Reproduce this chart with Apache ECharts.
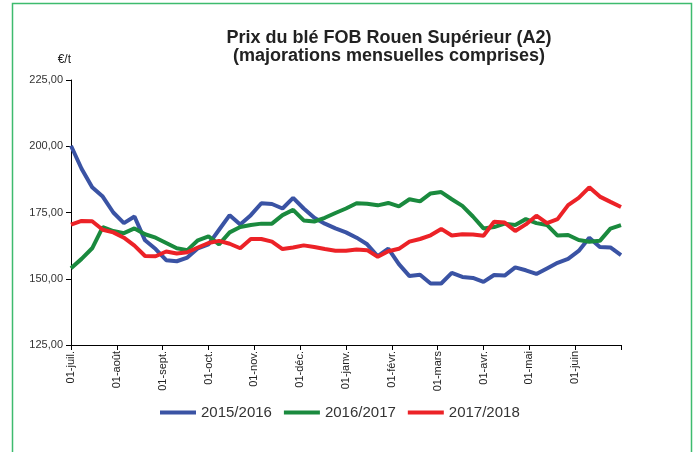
<!DOCTYPE html>
<html>
<head>
<meta charset="utf-8">
<script src="https://cdn.jsdelivr.net/npm/echarts@6/dist/echarts.min.js"></script>
<style>
  html, body { margin: 0; padding: 0; background: #fff; }
  #chart { width: 695px; height: 452px; }
</style>
</head>
<body>
<div id="chart"></div>
<script>
  // étiquettes des mois (axe x), une semaine = une unité
  const monthLabels = ['01-juil.', '01-août', '01-sept.', '01-oct.', '01-nov.', '01-déc.',
    '01-janv.', '01-févr.', '01-mars', '01-avr.', '01-mai', '01-juin'];
  const nbWeeks = 52;

  // prix hebdomadaires (€/t)
  const s2015 = [200.2, 191.5, 184.5, 181, 175, 171, 173.5, 164.5, 161.2, 157, 156.6, 158, 161.5,
    163, 168.5, 174, 170.5, 174, 178.5, 178.2, 176.5, 180.5, 176.5, 173, 170.8, 169, 167.5,
    165.5, 163, 158.5, 161.4, 155.5, 151, 151.5, 148.2, 148.2, 152.2, 150.7, 150.3, 148.8,
    151.4, 151.2, 154.3, 153.2, 151.8, 153.9, 156, 157.5, 160.5, 165.5, 162, 161.8, 158.9];
  const s2016 = [154, 157.5, 161.5, 169.5, 168, 167.2, 169, 166.8, 165.5, 163.5, 161.5, 160.8, 164.5,
    166, 163, 167.5, 169.5, 170.3, 170.8, 170.8, 174, 176, 172, 171.6, 173, 174.8, 176.5,
    178.5, 178.3, 177.7, 178.6, 177.3, 180, 179.2, 182.2, 182.7, 180, 177.5, 173.5, 169,
    169.5, 170.8, 170.3, 172.5, 171, 170.3, 166.3, 166.5, 164.6, 164, 164.3, 168.9, 170.2];
  const s2017 = [170.4, 171.8, 171.7, 168.5, 167.5, 165.5, 162.5, 158.6, 158.5, 160.3, 159.5, 160, 161.8,
    163.5, 164.3, 163.2, 161.5, 165, 165, 164, 161.2, 161.8, 162.6, 162, 161.2, 160.6, 160.6,
    161, 160.8, 158.3, 160.4, 161.3, 164, 165, 166.4, 168.8, 166.3, 166.8, 166.7, 166.2,
    171.5, 171.2, 168, 170.5, 173.8, 171, 172.5, 177.8, 180.5, 184.5, 181, 179, 177.1];

  const seriesNames = ['2015/2016', '2016/2017', '2017/2018'];
  const seriesColors = ['#3a53a4', '#1a8a3e', '#ec2227'];

  const chart = echarts.init(document.getElementById('chart'));

  const toPairs = arr => arr.map((v, i) => [i, v]);

  const option = {
    animation: false,
    backgroundColor: '#fff',
    graphic: [
      {
        type: 'rect',
        shape: { x: 12.5, y: 3.5, width: 679, height: 460 },
        style: { fill: 'none', stroke: '#3dbb6e', lineWidth: 1.5 },
        silent: true
      }
    ],
    title: [
      {
        text: 'Prix du blé FOB Rouen Supérieur (A2)',
        left: 384, top: 24, textAlign: 'center',
        textStyle: { fontFamily: 'Liberation Sans', fontSize: 18, fontWeight: 'bold', color: '#222' }
      },
      {
        text: '(majorations mensuelles comprises)',
        left: 384, top: 42, textAlign: 'center',
        textStyle: { fontFamily: 'Liberation Sans', fontSize: 18, fontWeight: 'bold', color: '#222' }
      }
    ],
    legend: {
      data: seriesNames,
      bottom: 27,
      left: 155,
      itemWidth: 36,
      itemHeight: 4,
      itemGap: 12,
      icon: 'rect',
      textStyle: { fontFamily: 'Liberation Sans', fontSize: 15, color: '#333' }
    },
    grid: { left: 71, right: 74, top: 80, bottom: 107 },
    xAxis: {
      type: 'value',
      min: 0,
      max: nbWeeks,
      interval: nbWeeks / 12,
      splitLine: { show: false },
      axisLine: { lineStyle: { color: '#000', width: 1 } },
      axisTick: { lineStyle: { color: '#000' }, length: 5 },
      axisLabel: {
        rotate: 90,
        fontFamily: 'Liberation Sans',
        fontSize: 11,
        color: '#222',
        margin: 6,
        showMaxLabel: true,
        formatter: v => monthLabels[Math.round(v * 12 / nbWeeks)] || ''
      }
    },
    yAxis: {
      type: 'value',
      min: 125,
      max: 225,
      interval: 25,
      name: '€/t',
      nameGap: 14,
      nameTextStyle: { fontFamily: 'Liberation Sans', fontSize: 12, color: '#222', align: 'right' },
      splitLine: { show: false },
      axisLine: { show: true, lineStyle: { color: '#000', width: 1 } },
      axisTick: { show: true, length: 5, lineStyle: { color: '#000' } },
      axisLabel: {
        fontFamily: 'Liberation Sans',
        fontSize: 11,
        color: '#333',
        margin: 8,
        formatter: v => v.toFixed(2).replace('.', ',')
      }
    },
    series: [s2015, s2016, s2017].map((arr, k) => ({
      name: seriesNames[k],
      type: 'line',
      data: toPairs(arr),
      showSymbol: false,
      symbol: 'none',
      lineStyle: { width: 4, color: seriesColors[k] },
      itemStyle: { color: seriesColors[k] }
    }))
  };

  chart.setOption(option);
</script>
</body>
</html>
